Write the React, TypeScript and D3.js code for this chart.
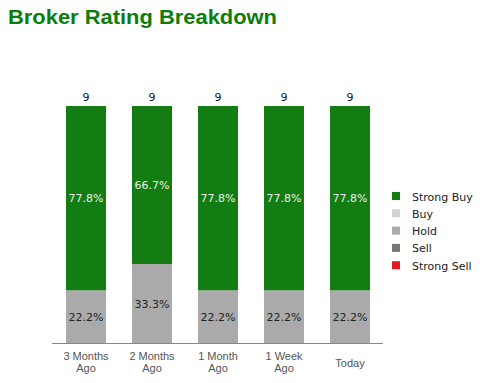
import React from "react";
import * as d3 from "d3";

const categories = ["3 Months|Ago", "2 Months|Ago", "1 Month|Ago", "1 Week|Ago", "Today"];
const ratingNames = ["Strong Buy", "Buy", "Hold", "Sell", "Strong Sell"];
const strongBuy = [7, 6, 7, 7, 7];
const buy = [0, 0, 0, 0, 0];
const hold = [2, 3, 2, 2, 2];
const sell = [0, 0, 0, 0, 0];
const strongSell = [0, 0, 0, 0, 0];
const colors = ["#137d13", "#d3d3d3", "#aaaaaa", "#777777", "#e21b23"];

export default function App() {
  const W = 488, H = 383;
  const series = [strongBuy, buy, hold, sell, strongSell];
  const rows = categories.map((c, i) => {
    const r: any = { cat: c };
    ratingNames.forEach((n, k) => (r[n] = series[k][i]));
    return r;
  });
  const totals = categories.map((_, i) => series.reduce((s, a) => s + a[i], 0));
  const stack = d3.stack<any>().keys([...ratingNames].reverse()).offset(d3.stackOffsetExpand)(rows);

  const x = d3.scaleBand().domain(categories).range([53, 383]).paddingInner(0.394).paddingOuter(0.197);
  const y = d3.scaleLinear().domain([0, 1]).range([343, 106]);

  return (
    <svg width={W} height={H} style={{ position: "absolute", left: 0, top: 0 }}>
      <rect width={W} height={H} fill="#fff" />
      <text x={8} y={24} fontFamily="Liberation Sans, Arial, sans-serif" fontWeight="bold" fontSize={20.5}
        textLength={269} lengthAdjust="spacingAndGlyphs" fill="#0b7d0b">
        Broker Rating Breakdown
      </text>
      {stack.map((s) => {
        const k = ratingNames.indexOf(s.key);
        return (
          <g key={s.key}>
            {s.map((d, i) => {
              const h = y(d[0]) - y(d[1]);
              if (h <= 0) return null;
              const xx = x(categories[i])!;
              const pct = (series[k][i] / totals[i]) * 100;
              return (
                <g key={i}>
                  <rect x={xx} y={y(d[1])} width={x.bandwidth()} height={h} fill={colors[k]} />
                  <text x={xx + x.bandwidth() / 2} y={(y(d[0]) + y(d[1])) / 2 + 4} textAnchor="middle"
                    fontFamily="DejaVu Sans, sans-serif" fontSize={11} fill={k === 0 ? "#e8f0e8" : "#222"}>
                    {pct.toFixed(1)}%
                  </text>
                </g>
              );
            })}
          </g>
        );
      })}
      {categories.map((c, i) => (
        <text key={"t" + i} x={x(c)! + x.bandwidth() / 2} y={101} textAnchor="middle"
          fontFamily="DejaVu Sans, sans-serif" fontSize={11} fill="#111">
          {totals[i]}
        </text>
      ))}
      <line x1={52} x2={383} y1={343.5} y2={343.5} stroke="#888" strokeWidth={1} />
      {categories.map((c, i) => {
        const [a, b] = c.split("|");
        const cx = x(c)! + x.bandwidth() / 2;
        return (
          <text key={"c" + i} textAnchor="middle" fontFamily="Liberation Sans, Arial, sans-serif" fontSize={11} fill="#555">
            {b ? (
              <>
                <tspan x={cx} y={360}>{a}</tspan>
                <tspan x={cx} y={372}>{b}</tspan>
              </>
            ) : (
              <tspan x={cx} y={367}>{a}</tspan>
            )}
          </text>
        );
      })}
      {ratingNames.map((n, k) => (
        <g key={n} transform={`translate(392, ${192 + k * 17.3})`}>
          <rect x={0} y={0} width={8} height={8} fill={colors[k]} />
          <text x={20} y={8.5} fontFamily="DejaVu Sans, sans-serif" fontSize={11} fill="#222">{n}</text>
        </g>
      ))}
    </svg>
  );
}
